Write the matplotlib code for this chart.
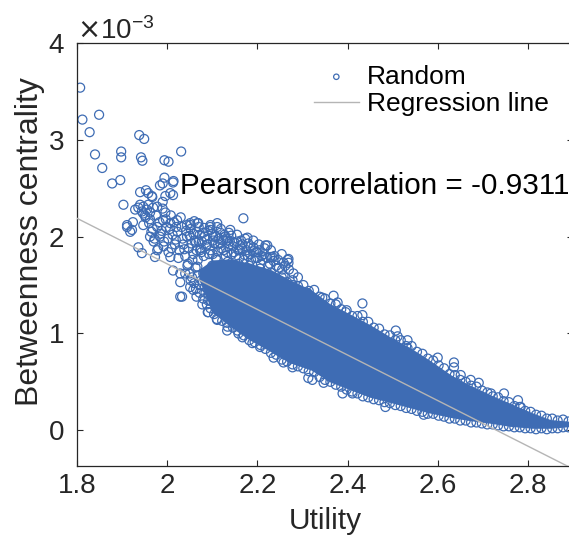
import numpy as np
import matplotlib.pyplot as plt
from matplotlib.ticker import ScalarFormatter

plt.rcParams['font.family'] = ['Liberation Sans', 'DejaVu Sans']

# all y values below are in units of 1e-3
# solid core of the cloud (upper / lower edge)
core_x = [2.07, 2.10, 2.14, 2.18, 2.23, 2.27, 2.32, 2.36, 2.41, 2.45,
          2.50, 2.54, 2.58, 2.63, 2.67, 2.72, 2.76, 2.81, 2.85, 2.90]
core_hi = [1.66, 1.76, 1.77, 1.73, 1.66, 1.56, 1.45, 1.31, 1.19, 1.09,
           0.95, 0.85, 0.73, 0.57, 0.47, 0.36, 0.28, 0.18, 0.11, 0.09]
core_lo = [1.56, 1.22, 1.07, 0.94, 0.81, 0.70, 0.62, 0.50, 0.41, 0.34,
           0.28, 0.23, 0.18, 0.13, 0.10, 0.07, 0.04, 0.02, 0.02, 0.04]

# loose points at the top left
left_x = [1.807, 1.812, 1.849, 1.828, 1.938, 1.949, 1.840, 1.898, 1.898, 1.942,
          1.945, 1.994, 2.003, 2.031, 1.856, 1.878, 1.896, 1.994, 1.990, 2.014,
          1.940, 1.953, 1.966, 1.996, 2.007, 1.990, 1.903, 1.984, 2.013, 1.958,
          1.967, 2.013, 1.936, 1.944, 1.951, 1.940, 1.929, 1.947, 1.962, 1.911,
          1.924, 1.947, 1.918, 1.936, 1.944, 1.973, 1.962, 1.984, 1.978, 2.007,
          2.013, 2.029, 2.029, 2.051, 2.029, 1.991, 2.007, 1.958, 1.978, 1.969,
          1.947, 1.996, 2.022, 2.051, 2.069, 2.096, 2.111, 2.129, 2.162, 2.169,
          2.178, 2.222, 2.267, 2.233, 2.191, 2.200, 2.044, 2.067, 2.096, 2.111,
          2.140, 2.080, 2.102, 2.118, 2.133, 2.073, 2.067, 2.080, 2.091, 2.111,
          2.133, 2.156, 1.911, 1.922]
left_y = [3.54, 3.21, 3.26, 3.08, 3.05, 3.01, 2.85, 2.88, 2.82, 2.82,
          2.785, 2.79, 2.775, 2.88, 2.71, 2.55, 2.585, 2.61, 2.55, 2.575,
          2.46, 2.48, 2.42, 2.42, 2.45, 2.36, 2.33, 2.53, 2.56, 2.45,
          2.41, 2.43, 2.30, 2.26, 2.22, 2.33, 2.28, 2.24, 2.25, 2.12,
          2.15, 2.12, 2.05, 1.89, 1.83, 1.79, 2.00, 2.00, 2.10, 1.79,
          1.65, 1.62, 1.38, 1.48, 1.53, 2.17, 2.14, 2.33, 2.31, 2.30,
          2.31, 2.25, 2.17, 2.14, 2.14, 2.07, 2.14, 2.00, 1.91, 2.19,
          1.99, 1.91, 1.76, 1.79, 1.89, 1.84, 2.12, 2.14, 2.12, 2.10,
          2.07, 2.04, 2.00, 1.93, 1.96, 1.86, 1.69, 1.62, 1.34, 1.24,
          1.11, 1.03, 2.10, 2.07]

# half-dense area left of and above the core
mid_x = [1.952, 1.960, 1.965, 1.970, 1.975, 1.980, 1.985, 1.990, 1.993, 1.998,
         2.003, 2.008, 2.012, 2.017, 2.020, 2.025, 2.030, 2.034, 2.038, 2.042,
         2.046, 2.050, 2.054, 2.058, 2.060, 2.063, 2.066, 2.070, 2.075, 2.082,
         2.088, 2.093, 2.100, 2.105, 2.112, 2.118, 2.124, 2.130, 2.136, 2.142,
         2.148, 2.155, 2.160, 2.166, 2.172, 2.180, 2.186, 2.192, 2.200, 2.208,
         2.215, 2.224, 2.236, 2.248, 2.040, 2.052, 2.058, 2.065, 2.072, 2.078,
         2.085, 2.090, 2.098,
         1.955, 1.962, 1.968, 1.972, 1.978, 1.983, 1.988, 1.992, 1.997, 2.002,
         2.006, 2.010, 2.015, 2.019, 2.023, 2.027, 2.032, 2.036, 2.040, 2.044,
         2.048, 2.052, 2.056, 2.061, 2.065, 2.068, 2.072, 2.077, 2.081, 2.086,
         2.091, 2.096, 2.102, 2.108, 2.114, 2.120, 2.127, 2.133, 2.139, 2.146,
         2.152, 2.158, 2.164, 2.170, 2.176, 2.184, 2.196, 2.205, 2.212, 2.228,
         2.242, 2.255, 2.045, 2.050, 2.055, 2.060, 2.064, 2.068, 2.072, 2.076,
         2.080, 2.084, 2.088, 2.092, 2.096, 2.100, 2.104,
         2.052, 2.058, 2.064, 2.070, 2.076, 2.083, 2.089, 2.095, 2.101, 2.107,
         2.113, 2.119, 2.125, 2.131, 2.137, 2.143, 2.149, 2.155, 2.161, 2.167,
         2.173, 2.179, 2.185, 2.191, 2.197, 2.203, 2.209, 2.216, 2.222, 2.230,
         2.238, 2.246, 2.254, 2.262, 2.270, 2.280, 2.290]
mid_y = [2.20, 2.14, 2.05, 1.95, 2.22, 1.88, 2.03, 2.29, 1.95, 2.10,
         1.84, 2.22, 2.02, 1.92, 2.10, 1.78, 2.20, 1.98, 1.87, 2.06,
         1.72, 2.01, 1.93, 1.82, 2.16, 1.68, 2.05, 1.95, 1.88, 2.09,
         1.97, 1.82, 2.03, 1.93, 1.85, 2.04, 1.96, 1.80, 1.90, 2.01,
         1.84, 1.95, 1.78, 1.88, 1.81, 1.93, 1.76, 1.85, 1.78, 1.72,
         1.82, 1.70, 1.75, 1.68, 1.62, 1.55, 1.45, 1.38, 1.50, 1.30,
         1.42, 1.22, 1.33,
         2.28, 2.18, 2.08, 1.98, 1.86, 2.15, 2.06, 1.90, 2.18, 1.98,
         2.08, 1.88, 2.15, 1.97, 2.05, 1.86, 2.10, 1.92, 1.80, 2.00,
         1.88, 2.08, 1.76, 1.96, 1.86, 1.76, 2.02, 1.95, 1.80, 1.90,
         2.06, 1.86, 1.96, 1.78, 1.98, 1.88, 2.02, 1.84, 1.95, 1.90,
         1.80, 1.86, 1.96, 1.76, 1.86, 1.82, 1.78, 1.86, 1.76, 1.72,
         1.70, 1.66, 1.70, 1.62, 1.58, 1.52, 1.46, 1.60, 1.42, 1.55,
         1.36, 1.48, 1.30, 1.40, 1.26, 1.70, 1.20,
         2.12, 2.03, 1.94, 2.10, 1.84, 2.00, 1.92, 2.10, 1.82, 2.00,
         1.92, 2.08, 1.86, 1.98, 2.04, 1.82, 1.94, 2.02, 1.86, 1.92,
         1.98, 1.80, 1.90, 1.96, 1.84, 1.92, 1.80, 1.88, 1.78, 1.86,
         1.80, 1.76, 1.82, 1.70, 1.66, 1.62, 1.58]

# points along the upper edge of the cloud
up_x = [2.110, 2.122, 2.134, 2.146, 2.158, 2.170, 2.182, 2.194, 2.206, 2.218,
        2.230, 2.242, 2.254, 2.266, 2.278, 2.290, 2.302, 2.314, 2.326, 2.338,
        2.350, 2.362, 2.374, 2.386, 2.398, 2.410, 2.422, 2.434, 2.446, 2.458,
        2.470, 2.482, 2.494, 2.506, 2.518, 2.530, 2.542, 2.554, 2.566, 2.578,
        2.590, 2.602, 2.614, 2.626, 2.638, 2.650, 2.662, 2.674, 2.686, 2.698,
        2.710, 2.722, 2.734, 2.746, 2.758, 2.770, 2.782, 2.794, 2.806, 2.818,
        2.830, 2.842, 2.854, 2.866, 2.878, 2.890,
        2.218, 2.229, 2.269, 2.269, 2.258, 2.278, 2.311, 2.344, 2.369, 2.378,
        2.396, 2.433, 2.433, 2.507, 2.511, 2.533, 2.533, 2.600, 2.636, 2.636,
        2.651, 2.673, 2.691, 2.718, 2.747, 2.778, 2.784, 2.258]
up_y = [1.76, 1.70, 1.74, 1.69, 1.72, 1.66, 1.70, 1.64, 1.67, 1.61,
        1.63, 1.57, 1.58, 1.53, 1.55, 1.49, 1.50, 1.44, 1.45, 1.38,
        1.36, 1.31, 1.30, 1.25, 1.24, 1.18, 1.18, 1.12, 1.12, 1.06,
        1.05, 0.99, 0.98, 0.93, 0.93, 0.87, 0.87, 0.81, 0.79, 0.74,
        0.72, 0.67, 0.64, 0.58, 0.57, 0.52, 0.50, 0.46, 0.45, 0.41,
        0.39, 0.35, 0.34, 0.30, 0.29, 0.25, 0.24, 0.20, 0.19, 0.16,
        0.15, 0.12, 0.12, 0.10, 0.11, 0.09,
        1.91, 1.79, 1.77, 1.73, 1.60, 1.50, 1.42, 1.37, 1.39, 1.32,
        1.22, 1.31, 1.19, 1.03, 0.97, 0.93, 0.85, 0.75, 0.70, 0.65,
        0.57, 0.52, 0.49, 0.38, 0.38, 0.31, 0.24, 1.73]

# points along the lower edge of the cloud
low_x = [2.110, 2.122, 2.134, 2.146, 2.158, 2.170, 2.182, 2.194, 2.206, 2.218,
         2.230, 2.242, 2.254, 2.266, 2.278, 2.290, 2.302, 2.314, 2.326, 2.338,
         2.350, 2.362, 2.374, 2.386, 2.398, 2.410, 2.422, 2.434, 2.446, 2.458,
         2.470, 2.482, 2.494, 2.506, 2.518, 2.530, 2.542, 2.554, 2.566, 2.578,
         2.590, 2.602, 2.614, 2.626, 2.638, 2.650, 2.662, 2.674, 2.686, 2.698,
         2.710, 2.722, 2.734, 2.746, 2.758, 2.770, 2.782, 2.794, 2.806, 2.818,
         2.830, 2.842, 2.854, 2.866, 2.878, 2.890,
         2.091, 2.111, 2.133, 2.167, 2.189, 2.207, 2.236, 2.258, 2.278, 2.033,
         2.313, 2.347, 2.322, 2.389, 2.411, 2.484, 2.569]
low_y = [1.15, 1.13, 1.07, 1.06, 1.00, 0.98, 0.93, 0.91, 0.86, 0.84,
         0.80, 0.78, 0.73, 0.71, 0.68, 0.66, 0.64, 0.61, 0.60, 0.55,
         0.52, 0.50, 0.47, 0.45, 0.42, 0.40, 0.38, 0.35, 0.34, 0.32,
         0.31, 0.29, 0.28, 0.26, 0.25, 0.23, 0.22, 0.20, 0.19, 0.17,
         0.17, 0.15, 0.14, 0.12, 0.12, 0.10, 0.10, 0.08, 0.08, 0.07,
         0.06, 0.06, 0.05, 0.04, 0.04, 0.03, 0.03, 0.02, 0.02, 0.01,
         0.02, 0.01, 0.02, 0.02, 0.03, 0.03,
         1.22, 1.14, 1.03, 0.96, 0.90, 0.88, 0.75, 0.70, 0.65, 1.38,
         0.54, 0.49, 0.52, 0.38, 0.38, 0.24, 0.16]

# regression line end points
reg_x = [1.8, 2.9]
reg_y = [2.19, -0.40]
pearson = -0.9311

xticks = [1.8, 2.0, 2.2, 2.4, 2.6, 2.8]
xtick_labels = ['1.8', '2', '2.2', '2.4', '2.6', '2.8']
yticks = [0, 1, 2, 3, 4]

blue = '#3e6cb4'
dark = '#262626'

pts_x = np.array(left_x + mid_x + up_x + low_x)
pts_y = np.array(left_y + mid_y + up_y + low_y) * 1e-3

fig = plt.figure(figsize=(5.69, 5.38), dpi=100)
ax = fig.add_axes([0.1353, 0.1338, 0.8717, 0.786])

ax.fill_between(core_x, np.array(core_lo) * 1e-3, np.array(core_hi) * 1e-3,
                color=blue, lw=0, zorder=2)
ax.scatter(pts_x, pts_y, s=42, facecolors='none', edgecolors=blue,
           linewidths=0.9, label='Random', zorder=2)
ax.plot(reg_x, np.array(reg_y) * 1e-3, color='#b5b5b5', lw=1.0,
        label='Regression line', zorder=3)

ax.text(2.029, 2.52e-3, 'Pearson correlation = %.4f' % pearson,
        fontsize=21.3, va='center', ha='left', color='k')

ax.set_xlim(1.8, 2.9)
ax.set_ylim(-0.37e-3, 4e-3)
ax.set_xticks(xticks)
ax.set_xticklabels(xtick_labels)
ax.set_yticks(np.array(yticks) * 1e-3)
fmt = ScalarFormatter(useMathText=True)
fmt.set_powerlimits((-2, 2))
ax.yaxis.set_major_formatter(fmt)
ax.yaxis.get_offset_text().set_fontsize(20)
ax.yaxis.get_offset_text().set_color(dark)

ax.tick_params(direction='in', length=4, width=0.8, top=True, right=True,
               labelsize=20, colors=dark)
ax.tick_params(axis='x', pad=5)
ax.tick_params(axis='y', pad=9)
for s in ax.spines.values():
    s.set_color(dark)
    s.set_linewidth(0.9)

ax.set_xlabel('Utility', fontsize=21.5, color=dark, labelpad=6)
ax.set_ylabel('Betweenness centrality', fontsize=23, color=dark)
ax.yaxis.set_label_coords(-0.064, 0.53)

ax.legend(loc='upper right', bbox_to_anchor=(0.972, 0.974), frameon=False,
          fontsize=19, handlelength=1.7, handletextpad=0.3, labelspacing=0.12,
          markerscale=0.6, scatterpoints=1, borderaxespad=0)

fig.savefig('out.png', dpi=100)
